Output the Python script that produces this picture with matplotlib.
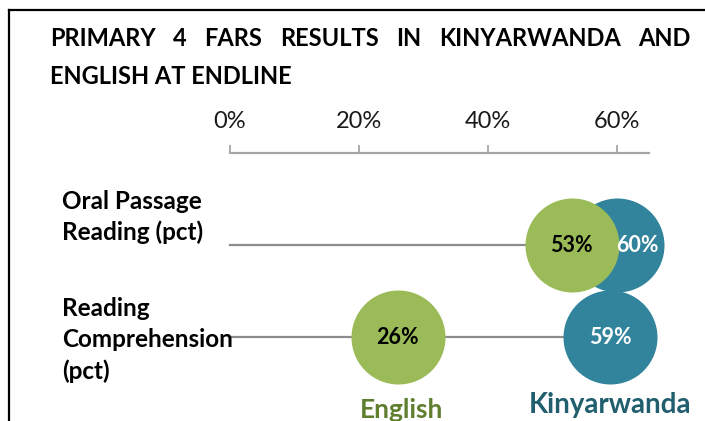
import matplotlib
matplotlib.use("Agg")
import matplotlib.pyplot as plt
from matplotlib.lines import Line2D

# ---- data ----
categories = ["Oral Passage\nReading (pct)", "Reading\nComprehension\n(pct)"]
english = [53, 26]
kinyarwanda = [60, 59]
series_names = ["English", "Kinyarwanda"]
xticks = [0, 20, 40, 60]
xtick_labels = ["0%", "20%", "40%", "60%"]
title_line1 = ["PRIMARY", "4", "FARS", "RESULTS", "IN", "KINYARWANDA", "AND"]
title_line2 = "ENGLISH AT ENDLINE"

GREEN = "#9BBB59"
BLUE = "#31849B"
GREEN_TXT = "#5F7F2F"
BLUE_TXT = "#215F6E"
GRAY = "#A6A6A6"
LINE_GRAY = "#8C8C8C"
FONT = "Lato"

W, H = 705, 421
fig = plt.figure(figsize=(W / 100, H / 100), dpi=100)
fig.patch.set_facecolor("white")

def fx(px):
    return px / W

def fy(py):
    return 1 - py / H

# borders
fig.add_artist(Line2D([fx(9), fx(9)], [fy(10), 0], transform=fig.transFigure, color="black", lw=1.6))
fig.add_artist(Line2D([fx(9), 1], [fy(10), fy(10)], transform=fig.transFigure, color="black", lw=1.6))

# axes: x from 230px to 649px, y from 153px to bottom
ax = fig.add_axes([fx(230), 0, fx(649) - fx(230), fy(153)])
ax.set_xlim(0, 65)
ax.set_ylim(1.913, -1.0)
ax.patch.set_alpha(0)
for s in ["left", "right", "bottom"]:
    ax.spines[s].set_visible(False)
ax.spines["top"].set_color(GRAY)
ax.spines["top"].set_linewidth(1.6)
ax.xaxis.set_ticks_position("top")
ax.set_xticks(xticks)
ax.set_xticklabels(xtick_labels, fontsize=17, fontfamily=FONT, color="#1a1a1a")
ax.tick_params(axis="x", direction="out", length=6, width=1.3, color=GRAY, pad=9)
ax.set_yticks([])

ys = list(range(len(categories)))
for i, y in enumerate(ys):
    ax.plot([0, max(english[i], kinyarwanda[i])], [y, y], color=LINE_GRAY, lw=1.6, zorder=1, clip_on=False)

size = (94 * 72 / 100) ** 2
ax.scatter(kinyarwanda, ys, s=size, color=BLUE, zorder=2, clip_on=False, linewidths=0)
ax.scatter(english, ys, s=size, color=GREEN, zorder=3, clip_on=False, linewidths=0)

for i, y in enumerate(ys):
    ax.text(english[i], y, f"{english[i]}%", ha="center", va="center", fontsize=15.5,
            fontweight="bold", fontfamily=FONT, color="black", zorder=4)
    kx = kinyarwanda[i]
    if abs(kinyarwanda[i] - english[i]) < 10:
        kx = kinyarwanda[i] + 3.2
    ax.text(kx, y, f"{kinyarwanda[i]}%", ha="center", va="center", fontsize=15.5,
            fontweight="bold", fontfamily=FONT, color="white", zorder=4)

# category labels
cat_y = [217, 340]
for lab, py in zip(categories, cat_y):
    fig.text(fx(62), fy(py), lab, ha="left", va="center", fontsize=17.5, fontweight="bold",
             fontfamily=FONT, color="black", linespacing=1.42)

# series labels
fig.text(fx(402), fy(410), series_names[0], ha="center", va="center", fontsize=19,
         fontweight="bold", fontfamily=FONT, color=GREEN_TXT)
fig.text(fx(610), fy(405), series_names[1], ha="center", va="center", fontsize=20,
         fontweight="bold", fontfamily=FONT, color=BLUE_TXT)

# justified title line 1
fig.canvas.draw()
renderer = fig.canvas.get_renderer()
words = []
total = 0
for w in title_line1:
    t = fig.text(0, fy(39), w, ha="left", va="center", fontsize=17, fontweight="bold",
                 fontfamily=FONT, color="black")
    bb = t.get_window_extent(renderer)
    words.append((t, bb.width))
    total += bb.width
left, right = 50, 691
gap = (right - left - total) / (len(words) - 1)
x = left
for t, wdt in words:
    t.set_x(fx(x))
    x += wdt + gap
fig.text(fx(50), fy(76), title_line2, ha="left", va="center", fontsize=17, fontweight="bold",
         fontfamily=FONT, color="black")

fig.savefig("out.png", dpi=100)
